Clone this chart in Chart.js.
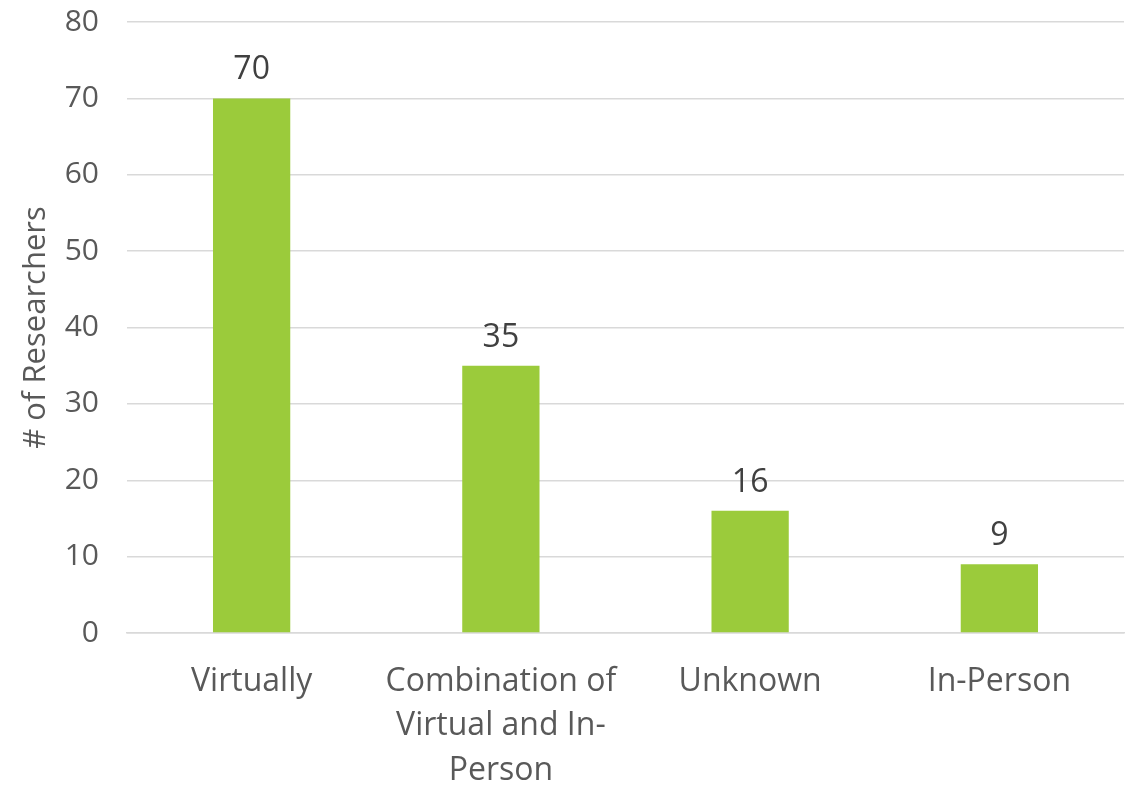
<!DOCTYPE html>
<html>
<head>
<meta charset="utf-8">
<script src="https://cdn.jsdelivr.net/npm/chart.js@4"></script>
<style>
  html, body { margin: 0; padding: 0; background: #fff; }
  #wrap { width: 1128px; height: 786px; }
</style>
</head>
<body>
<div id="wrap"><canvas id="chart" width="1128" height="786"></canvas></div>
<script>
// data
const categories = ["Virtually", ["Combination of", "Virtual and In-", "Person"], "Unknown", "In-Person"];
const researchers = [70, 35, 16, 9];
const yTicks = [0, 10, 20, 30, 40, 50, 60, 70, 80];

const textColor = "#595959";
const fontFamily = "'Open Sans', 'Liberation Sans', sans-serif";

// value labels above bars
const valueLabels = {
  id: "valueLabels",
  afterDatasetsDraw(chart) {
    const ctx = chart.ctx;
    const meta = chart.getDatasetMeta(0);
    ctx.save();
    ctx.fillStyle = "#404040";
    ctx.font = "32px " + fontFamily;
    ctx.textAlign = "center";
    ctx.textBaseline = "bottom";
    meta.data.forEach((bar, i) => {
      ctx.fillText(chart.data.datasets[0].data[i], bar.x, bar.y - 12);
    });
    ctx.restore();
  }
};

new Chart(document.getElementById("chart"), {
  type: "bar",
  data: {
    labels: categories,
    datasets: [{
      label: "# of Researchers",
      data: researchers,
      backgroundColor: "#9bcb3b",
      categoryPercentage: 1,
      barPercentage: 0.31
    }]
  },
  options: {
    responsive: false,
    animation: false,
    layout: { padding: { top: 22, right: 4, left: 0, bottom: 0 } },
    plugins: {
      legend: { display: false },
      tooltip: { enabled: false }
    },
    scales: {
      x: {
        grid: { display: false, drawTicks: false },
        border: { color: "#d9d9d9", width: 1.5 },
        ticks: {
          color: textColor,
          font: { family: fontFamily, size: 32, lineHeight: 1.4 },
          padding: 26,
          maxRotation: 0,
          autoSkip: false
        },
        afterFit(scale) {
          scale.height = 153;
          scale.paddingLeft = 0;
          scale.paddingRight = 0;
        }
      },
      y: {
        min: 0,
        max: 80,
        afterBuildTicks(scale) { scale.ticks = yTicks.map(v => ({ value: v })); },
        grid: { color: "#d9d9d9", lineWidth: 1.5, drawTicks: false },
        border: { display: false },
        ticks: {
          color: textColor,
          font: { family: fontFamily, size: 30 },
          padding: 28
        },
        title: {
          display: true,
          text: "# of Researchers",
          color: textColor,
          font: { family: fontFamily, size: 31 },
          padding: { top: 18, bottom: 0 }
        },
        afterFit(scale) {
          scale.width = 127;
          scale.paddingTop = 0;
          scale.paddingBottom = 0;
        }
      }
    }
  },
  plugins: [valueLabels]
});
</script>
</body>
</html>
